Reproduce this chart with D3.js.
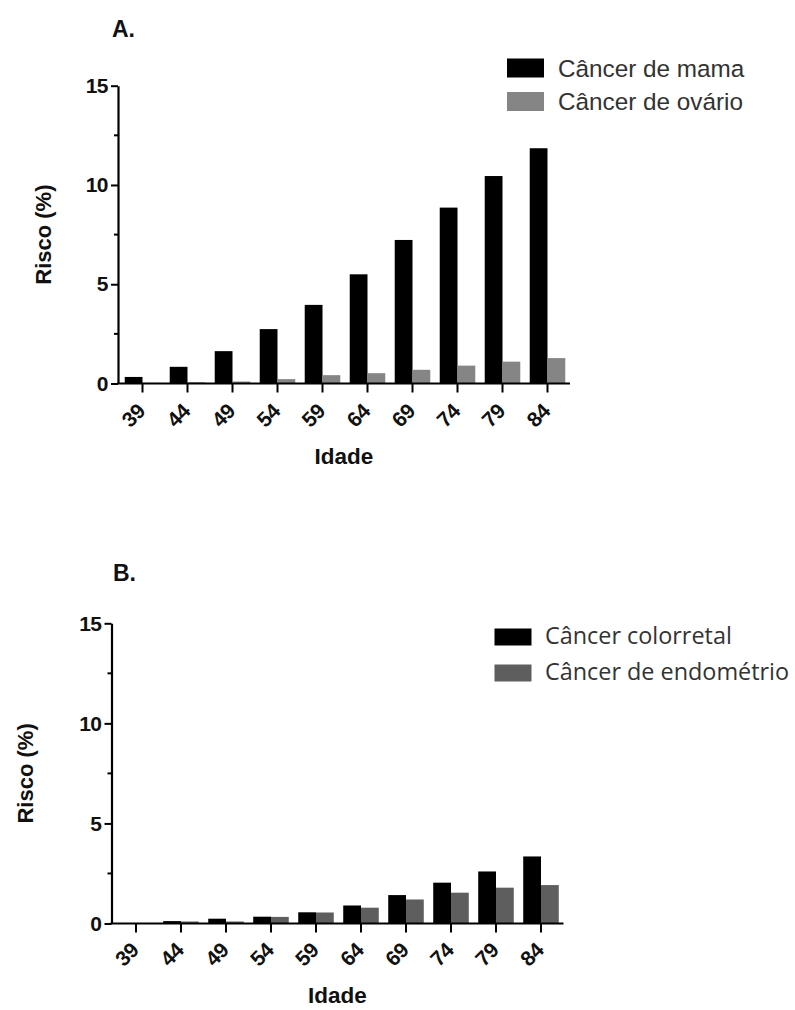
<!DOCTYPE html>
<html>
<head>
<meta charset="utf-8">
<script src="https://cdn.jsdelivr.net/npm/d3@7"></script>
<style>
  html, body { margin: 0; padding: 0; background: #fff; }
  svg { display: block; }
</style>
</head>
<body>
<svg id="chart" width="795" height="1010"></svg>
<script>
// ---- data ----
const ages = ["39", "44", "49", "54", "59", "64", "69", "74", "79", "84"];
const mama = [0.33, 0.84, 1.63, 2.74, 3.96, 5.5, 7.23, 8.86, 10.45, 11.85];
const ovario = [0.03, 0.06, 0.1, 0.22, 0.42, 0.52, 0.69, 0.9, 1.1, 1.28];
const colorretal = [0.02, 0.12, 0.24, 0.34, 0.56, 0.9, 1.42, 2.04, 2.6, 3.35];
const endometrio = [0.01, 0.1, 0.1, 0.33, 0.55, 0.79, 1.2, 1.54, 1.79, 1.92];
const yMajorTicks = [0, 5, 10, 15];
const yMinorTicks = [2.5, 7.5, 12.5];
const yLabel = "Risco (%)";
const xLabel = "Idade";

const svg = d3.select("#chart");

function drawPanel(cfg) {
  const g = svg.append("g");
  const x = d3.scaleBand().domain(ages).range([cfg.x0, cfg.x1])
    .paddingInner(0.21).paddingOuter(0.105);
  const sub = d3.scaleBand().domain([0, 1]).range([0, x.bandwidth()]);
  const y = d3.scaleLinear().domain([0, 15]).range([cfg.yBottom, cfg.yTop]);

  const series = [cfg.s1, cfg.s2];
  series.forEach((s, si) => {
    g.append("g").selectAll("rect").data(s.values).join("rect")
      .attr("x", (d, i) => x(ages[i]) + sub(si))
      .attr("y", d => y(d))
      .attr("width", sub.bandwidth())
      .attr("height", d => y(0) - y(d))
      .attr("fill", s.color);
  });

  // y axis
  const yAxis = g.append("g").attr("transform", `translate(${cfg.axisX},0)`)
    .call(d3.axisLeft(y).tickValues(yMajorTicks).tickSize(7).tickPadding(3).tickSizeOuter(0));
  yAxis.select(".domain").attr("stroke-width", 2.2);
  yAxis.selectAll(".tick line").attr("stroke-width", 2);
  yAxis.selectAll(".tick text")
    .attr("font-family", "'Liberation Sans', Arial, sans-serif")
    .attr("font-weight", "bold").attr("font-size", 21).attr("fill", "#111")
    .attr("letter-spacing", -0.5);
  g.append("g").selectAll("line").data(yMinorTicks).join("line")
    .attr("x1", cfg.axisX - 4).attr("x2", cfg.axisX)
    .attr("y1", d => y(d)).attr("y2", d => y(d))
    .attr("stroke", "#000").attr("stroke-width", 2);

  // x axis
  const xAxis = g.append("g").attr("transform", `translate(0,${cfg.yBottom})`)
    .call(d3.axisBottom(x).tickSize(9).tickSizeOuter(0));
  xAxis.select(".domain").attr("d", `M${cfg.axisX - 1},0H${cfg.x1}`).attr("stroke-width", 2.2);
  xAxis.selectAll(".tick line").attr("stroke-width", 2);
  xAxis.selectAll(".tick text")
    .attr("x", 0).attr("y", 0).attr("dy", 0)
    .attr("transform", `translate(4,${cfg.xLabDy}) rotate(-45)`)
    .attr("text-anchor", "end")
    .attr("font-family", "'Liberation Sans', Arial, sans-serif")
    .attr("font-weight", "bold").attr("font-size", 21).attr("fill", "#111")
    .attr("letter-spacing", -0.3);

  // axis titles
  g.append("text")
    .attr("transform", `translate(${cfg.yTitleX},${(cfg.yTop + cfg.yBottom) / 2}) rotate(-90)`)
    .attr("text-anchor", "middle")
    .attr("font-family", "'Liberation Sans', Arial, sans-serif")
    .attr("font-weight", "bold").attr("font-size", 22).attr("fill", "#111")
    .text(yLabel);
  g.append("text")
    .attr("x", (cfg.axisX + cfg.x1) / 2).attr("y", cfg.xTitleY)
    .attr("text-anchor", "middle")
    .attr("font-family", "'Liberation Sans', Arial, sans-serif")
    .attr("font-weight", "bold").attr("font-size", 22.5).attr("fill", "#111")
    .text(xLabel);

  // panel letter
  g.append("text").attr("x", cfg.letterX).attr("y", cfg.letterY)
    .attr("font-family", "'Liberation Sans', Arial, sans-serif")
    .attr("font-weight", "bold").attr("font-size", 23).attr("fill", "#111")
    .text(cfg.letter);

  // legend
  const leg = g.append("g");
  series.forEach((s, si) => {
    const ly = cfg.legY + si * cfg.legStep;
    leg.append("rect").attr("x", cfg.legX).attr("y", ly)
      .attr("width", 37).attr("height", cfg.swH).attr("fill", s.color);
    leg.append("text").attr("x", cfg.legX + cfg.legTextDx).attr("y", ly + cfg.legBaseDy)
      .attr("font-family", cfg.legFont).attr("font-size", cfg.legSize).attr("fill", "#333")
      .text(s.name);
  });
}

drawPanel({
  letter: "A.", letterX: 112, letterY: 37,
  x0: 120, x1: 570, axisX: 118, yTop: 85.7, yBottom: 383.5,
  xLabDy: 29, yTitleX: 51, xTitleY: 464,
  s1: { name: "Câncer de mama", values: mama, color: "#000000" },
  s2: { name: "Câncer de ovário", values: ovario, color: "#858585" },
  legX: 507, legY: 58.5, legStep: 33.5, swH: 19, legTextDx: 51, legBaseDy: 18,
  legFont: "'Liberation Sans', Arial, sans-serif", legSize: 24.3
});

drawPanel({
  letter: "B.", letterX: 113, letterY: 581,
  x0: 113.5, x1: 563.5, axisX: 111.5, yTop: 623.3, yBottom: 923.5,
  xLabDy: 28, yTitleX: 33, xTitleY: 1003,
  s1: { name: "Câncer colorretal", values: colorretal, color: "#000000" },
  s2: { name: "Câncer de endométrio", values: endometrio, color: "#5e5e5e" },
  legX: 494.5, legY: 628.5, legStep: 36, swH: 17, legTextDx: 50.5, legBaseDy: 15,
  legFont: "'Open Sans', 'Noto Sans', sans-serif", legSize: 23.4
});
</script>
</body>
</html>
